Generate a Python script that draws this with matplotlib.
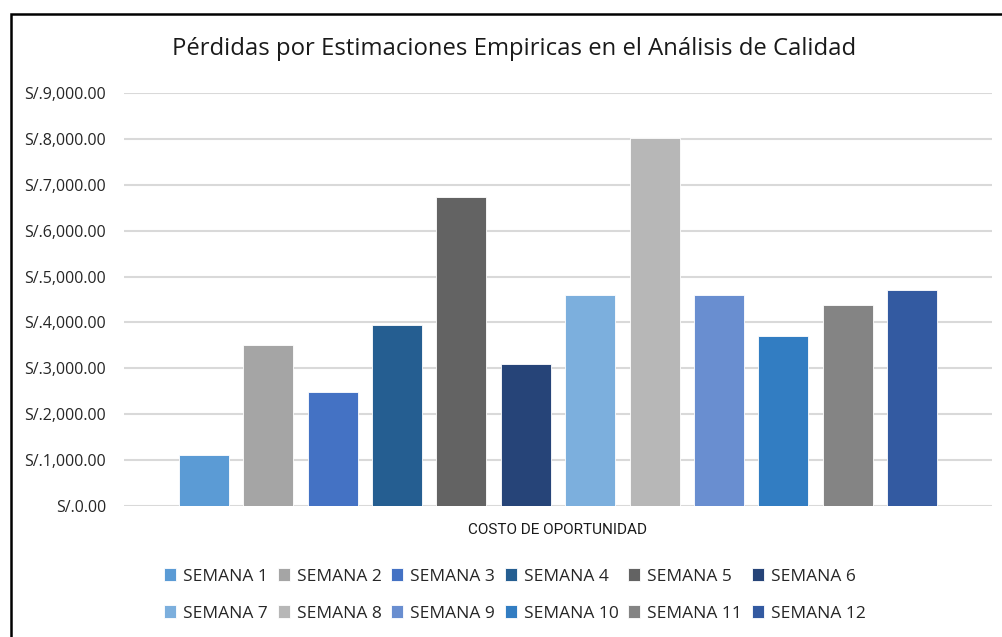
import matplotlib
matplotlib.use("Agg")
import matplotlib.pyplot as plt
from matplotlib.patches import Rectangle
from matplotlib.ticker import FuncFormatter

plt.rcParams['font.family'] = ['Open Sans', 'DejaVu Sans']

semanas = ['SEMANA %d' % i for i in range(1, 13)]
valores = [1110, 3510, 2490, 3950, 6740, 3100, 4590, 8020, 4590, 3700, 4390, 4700]
colores = ['#5B9BD5', '#A5A5A5', '#4472C4', '#255E91', '#636363', '#264478',
           '#7CAFDD', '#B7B7B7', '#698ED0', '#327DC2', '#848484', '#335AA1']
titulo = 'Pérdidas por Estimaciones Empiricas en el Análisis de Calidad'
categoria = 'COSTO DE OPORTUNIDAD'

fig = plt.figure(figsize=(10.02, 6.37), dpi=100)
ax = fig.add_axes([124 / 1002, 1 - 506 / 637, 868 / 1002, 413 / 637])

x = list(range(len(valores)))
bars = ax.bar(x, valores, width=0.775, color=colores, edgecolor='white', linewidth=0.6, zorder=3)

ax.set_ylim(0, 9000)
ax.set_xlim(-1.24, 12.24)
ax.set_yticks(range(0, 9001, 1000))
ax.yaxis.set_major_formatter(FuncFormatter(lambda v, p: 'S/.{:,.2f}'.format(v)))
ax.set_xticks([])
ax.grid(axis='y', color='#D9D9D9', linewidth=1.5, zorder=0)
for s in ax.spines.values():
    s.set_visible(False)
ax.tick_params(axis='y', length=0, pad=13, labelsize=11.5, labelcolor='#262626')

fig.text(514 / 1002, 1 - 49 / 637, titulo, ha='center', va='center', fontsize=17.2, color='#1a1a1a')
fig.text(558 / 1002, 1 - 530 / 637, categoria, ha='center', va='center', fontsize=11,
         color='#1a1a1a', family=['Roboto', 'DejaVu Sans'])

# leyenda en orden por filas (6 columnas)
orden = [i + 6 * r for i in range(6) for r in range(2)]
fig.legend([bars.patches[i] for i in orden], [semanas[i] for i in orden], ncol=6, loc='center',
           bbox_to_anchor=(515 / 1002, 1 - 595 / 637), frameon=False, fontsize=12.5,
           handlelength=0.7, handleheight=0.7, handletextpad=0.4, columnspacing=0.55,
           labelspacing=1.2, labelcolor='#262626')

# marco del grafico
fig.patches.append(Rectangle((11 / 1002, -0.1), 1.2, 1 - 14 / 637 + 0.1, transform=fig.transFigure,
                             fill=False, edgecolor='black', linewidth=1.8))

fig.savefig('out.png', dpi=100)
